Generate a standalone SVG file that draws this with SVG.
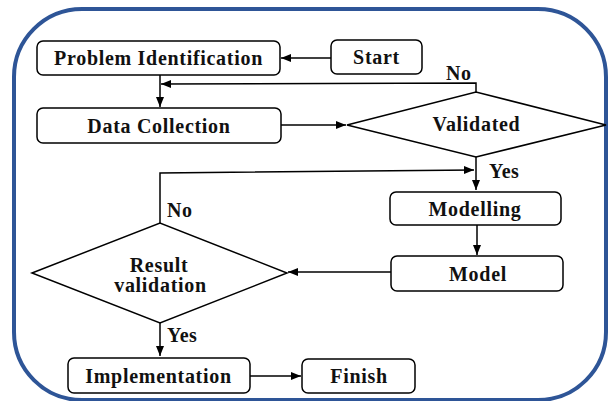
<svg xmlns="http://www.w3.org/2000/svg" width="608" height="401" viewBox="0 0 608 401">
<style>
.box{fill:#fff;stroke:#000;stroke-width:1.5}
.t{font-family:"Liberation Serif","Times New Roman",serif;font-weight:bold;font-size:20px;letter-spacing:0.7px;fill:#111;text-anchor:middle}
.l{font-family:"Liberation Serif","Times New Roman",serif;font-weight:bold;font-size:20px;letter-spacing:0.5px;fill:#111}
.c{fill:none;stroke:#000;stroke-width:1.5}
</style>
<defs>
<marker id="ah" viewBox="0 0 10 10" refX="10" refY="5" markerWidth="10" markerHeight="10" markerUnits="userSpaceOnUse" orient="auto">
<path d="M0,1 L10,5 L0,9 Z" fill="#000"/>
</marker>
</defs>
<rect x="0" y="0" width="608" height="401" fill="#fff"/>
<rect id="frame" x="14" y="9" width="592" height="391" rx="68" ry="68" fill="none" stroke="#2E5597" stroke-width="4"/>
<g id="connectors">
<line class="c" x1="331" y1="58" x2="281" y2="58" marker-end="url(#ah)"/>
<line class="c" x1="160" y1="75" x2="160" y2="107" marker-end="url(#ah)"/>
<polyline class="c" points="476,92 476,83 161,84" marker-end="url(#ah)"/>
<line class="c" x1="281" y1="125" x2="346" y2="125" marker-end="url(#ah)"/>
<line class="c" x1="476" y1="157" x2="476" y2="190" marker-end="url(#ah)"/>
<polyline class="c" points="160,223 160,173 474,170" marker-end="url(#ah)"/>
<line class="c" x1="477" y1="225" x2="477" y2="255" marker-end="url(#ah)"/>
<line class="c" x1="391" y1="272" x2="288" y2="272" marker-end="url(#ah)"/>
<line class="c" x1="160" y1="323" x2="160" y2="356" marker-end="url(#ah)"/>
<line class="c" x1="250" y1="376" x2="301" y2="376" marker-end="url(#ah)"/>
<text class="l" x="446" y="80">No</text>
<text class="l" x="489" y="178">Yes</text>
<text class="l" x="167" y="217">No</text>
<text class="l" x="167" y="342">Yes</text>
</g>
<g id="problem-identification">
<rect class="box" x="37" y="41" width="243" height="34" rx="6"/>
<text class="t" x="158.5" y="65">Problem Identification</text>
</g>
<g id="start">
<rect class="box" x="331" y="40" width="91" height="34" rx="6"/>
<text class="t" x="376.5" y="64">Start</text>
</g>
<g id="data-collection">
<rect class="box" x="37" y="108" width="244" height="35" rx="6"/>
<text class="t" x="159" y="132.5">Data Collection</text>
</g>
<g id="validated">
<polygon class="box" points="347,125 476,92 606,125 476,157"/>
<text class="t" x="476.5" y="131">Validated</text>
</g>
<g id="modelling">
<rect class="box" x="390" y="192" width="171" height="33" rx="6"/>
<text class="t" x="475" y="215.5">Modelling</text>
</g>
<g id="model">
<rect class="box" x="391" y="256" width="172" height="35" rx="6"/>
<text class="t" x="478" y="281">Model</text>
</g>
<g id="result-validation">
<polygon class="box" points="32,273 160,223 287,273 160,323"/>
<text class="t" x="159" y="272">Result</text>
<text class="t" x="160.5" y="292">validation</text>
</g>
<g id="implementation">
<rect class="box" x="68" y="358" width="182" height="35" rx="6"/>
<text class="t" x="158.5" y="383">Implementation</text>
</g>
<g id="finish">
<rect class="box" x="302" y="359" width="113" height="34" rx="6"/>
<text class="t" x="359" y="383">Finish</text>
</g>
</svg>
